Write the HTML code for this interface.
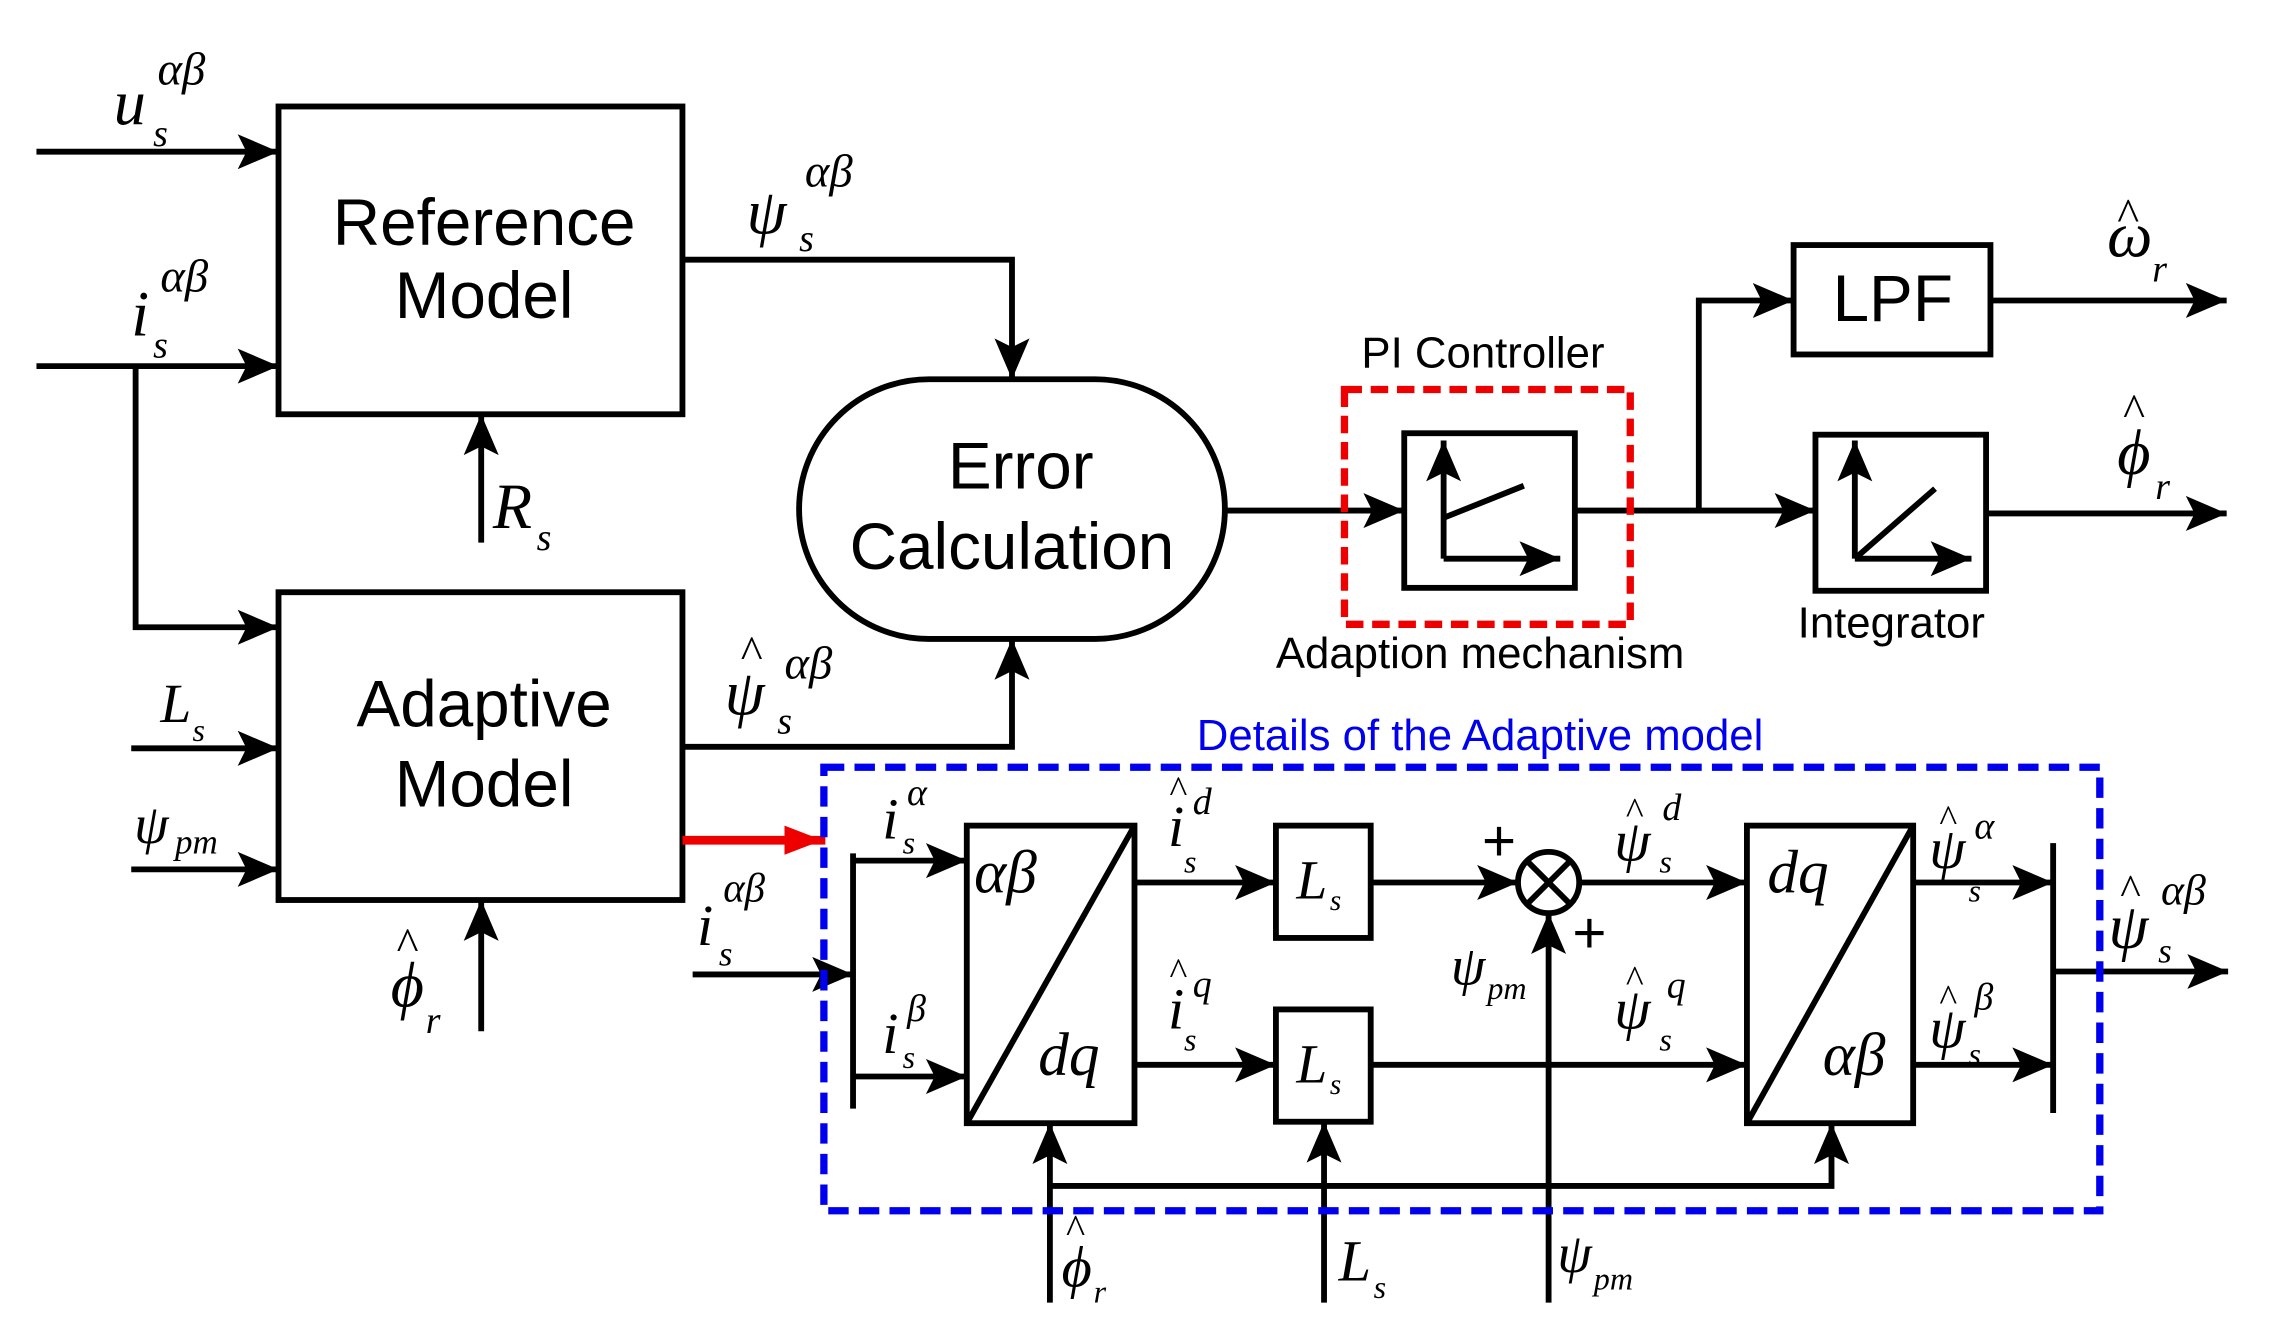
<!DOCTYPE html>
<html><head><meta charset="utf-8"><style>html,body{margin:0;padding:0;background:#fff}svg{display:block}
.t{font-family:"Liberation Sans",sans-serif}
.m{font-family:"Liberation Serif",serif;font-style:italic}
</style></head><body>
<svg width="2285" height="1342" viewBox="0 0 1567 920" preserveAspectRatio="none" xmlns="http://www.w3.org/2000/svg">
<defs><marker id="a" markerUnits="userSpaceOnUse" markerWidth="30" markerHeight="24" refX="28" refY="12" orient="auto"><path d="M0,0 L28,12 L0,24 L6,12 Z" fill="#000"/></marker>
<marker id="r" markerUnits="userSpaceOnUse" markerWidth="30" markerHeight="24" refX="28" refY="12" orient="auto"><path d="M0,2 L26,12 L0,22 Z" fill="#e00"/></marker></defs>
<g stroke="#000" stroke-width="4" fill="none">
<rect x="191" y="73" width="277" height="211"/>
<rect x="191" y="406" width="277" height="211"/>
<rect x="548" y="260" width="292" height="178" rx="89"/>
<rect x="963" y="297" width="117" height="106"/>
<rect x="1230" y="168" width="135" height="75"/>
<rect x="1245" y="298" width="117" height="107"/>
<rect x="663" y="566" width="115" height="204"/><line x1="778" y1="566" x2="663" y2="770"/>
<rect x="1198" y="566" width="114" height="204"/><line x1="1312" y1="566" x2="1198" y2="770"/>
<rect x="875" y="566" width="65" height="77"/>
<rect x="875" y="692" width="65" height="77"/>
<circle cx="1062" cy="605" r="21"/><line x1="1047" y1="590" x2="1077" y2="620"/><line x1="1077" y1="590" x2="1047" y2="620"/>
<line x1="585" y1="585" x2="585" y2="760"/><line x1="1408" y1="578" x2="1408" y2="763"/>
</g>
<g stroke="#000" stroke-width="4" fill="none" marker-end="url(#a)">
<path d="M25,104H191"/><path d="M25,251H191"/><path d="M93,251V430H191"/>
<path d="M330,372V284"/><path d="M90,513H191"/><path d="M90,596H191"/><path d="M330,707V617"/>
<path d="M468,178H694V260"/><path d="M468,512H694V438"/>
<path d="M840,350H963"/><path d="M1080,350H1245"/><path d="M1165,350V206H1230"/>
<path d="M1365,206H1527"/><path d="M1362,352H1527"/>
<path d="M475,668H585"/><path d="M585,590H663"/><path d="M585,738H663"/>
<path d="M778,605H875"/><path d="M778,730H875"/><path d="M940,605H1041"/><path d="M1083,605H1198"/><path d="M940,730H1198"/>
<path d="M1312,605H1408"/><path d="M1312,730H1408"/><path d="M1408,666H1528"/>
<path d="M720,893V770"/><path d="M908,893V769"/><path d="M1062,893V626"/><path d="M720,813H1256V770"/>
<path d="M990,383V302"/><path d="M990,383H1070"/><path d="M1272,383V302"/><path d="M1272,383H1352"/>
</g>
<g stroke="#000" stroke-width="4"><line x1="990" y1="355" x2="1045" y2="333"/><line x1="1272" y1="383" x2="1327" y2="335"/></g>
<path d="M468,576H566" stroke="#e00" stroke-width="6" marker-end="url(#r)"/>
<rect x="922" y="267" width="196" height="161" fill="none" stroke="#e00" stroke-width="5" stroke-dasharray="12,6"/>
<rect x="565" y="526" width="875" height="304" fill="none" stroke="#0000ee" stroke-width="5" stroke-dasharray="14,7"/>
<g class="t" font-size="45" text-anchor="middle" fill="#000">
<text x="332" y="168">Reference</text><text x="332" y="218">Model</text>
<text x="332" y="498">Adaptive</text><text x="332" y="553">Model</text>
<text x="700" y="335">Error</text><text x="694" y="390">Calculation</text>
<text x="1298" y="220">LPF</text>
</g>
<g class="t" font-size="30" text-anchor="middle" fill="#000">
<text x="1017" y="252">PI Controller</text><text x="1015" y="458">Adaption mechanism</text><text x="1297" y="437">Integrator</text>
<text x="1015" y="514" fill="#0000ee">Details of the Adaptive model</text>
<text x="1028" y="590" font-size="40">+</text><text x="1090" y="653" font-size="40">+</text>
</g>
<g class="m" fill="#000" font-size="44">
<text x="78" y="85">u</text><text x="105" y="100" font-size="26">s</text><text x="108" y="58" font-size="32">αβ</text>
<text x="90" y="230">i</text><text x="105" y="245" font-size="26">s</text><text x="110" y="200" font-size="32">αβ</text>
<text x="338" y="362">R</text><text x="368" y="377" font-size="26">s</text>
<text x="110" y="495" font-size="38">L</text><text x="132" y="508" font-size="22">s</text>
<text x="92" y="578" font-size="38">ψ</text><text x="120" y="585" font-size="24">pm</text>
<text x="268" y="690">ϕ</text><text x="272" y="658" font-size="32" font-style="normal">^</text><text x="292" y="708" font-size="26">r</text>
<text x="512" y="160">ψ</text><text x="548" y="172" font-size="26">s</text><text x="552" y="128" font-size="32">αβ</text>
<text x="497" y="490">ψ</text><text x="508" y="458" font-size="32" font-style="normal">^</text><text x="533" y="503" font-size="26">s</text><text x="538" y="465" font-size="32">αβ</text>
<text x="1445" y="176">ω</text><text x="1452" y="158" font-size="32" font-style="normal">^</text><text x="1476" y="193" font-size="26">r</text>
<text x="1452" y="325">ϕ</text><text x="1456" y="292" font-size="32" font-style="normal">^</text><text x="1478" y="342" font-size="26">r</text>
<text x="478" y="648" font-size="40">i</text><text x="493" y="662" font-size="24">s</text><text x="496" y="618" font-size="28">αβ</text>
<text x="605" y="575" font-size="40">i</text><text x="619" y="585" font-size="22">s</text><text x="622" y="552" font-size="26">α</text>
<text x="605" y="722" font-size="40">i</text><text x="619" y="732" font-size="22">s</text><text x="622" y="700" font-size="26">β</text>
<text x="801" y="580" font-size="40">i</text><text x="802" y="550" font-size="26" font-style="normal">^</text><text x="812" y="598" font-size="22">s</text><text x="818" y="558" font-size="26">d</text>
<text x="801" y="705" font-size="40">i</text><text x="802" y="675" font-size="26" font-style="normal">^</text><text x="812" y="720" font-size="22">s</text><text x="818" y="683" font-size="26">q</text>
<text x="889" y="616" font-size="38">L</text><text x="912" y="624" font-size="20">s</text>
<text x="889" y="742" font-size="38">L</text><text x="912" y="750" font-size="20">s</text>
<text x="668" y="612" font-size="42">αβ</text><text x="712" y="737" font-size="42">dq</text>
<text x="1212" y="612" font-size="42">dq</text><text x="1250" y="737" font-size="42">αβ</text>
<text x="1107" y="590" font-size="40">ψ</text><text x="1115" y="565" font-size="26" font-style="normal">^</text><text x="1138" y="598" font-size="22">s</text><text x="1140" y="562" font-size="26">d</text>
<text x="1107" y="705" font-size="40">ψ</text><text x="1115" y="680" font-size="26" font-style="normal">^</text><text x="1138" y="720" font-size="22">s</text><text x="1143" y="684" font-size="26">q</text>
<text x="995" y="675" font-size="38">ψ</text><text x="1020" y="685" font-size="22">pm</text>
<text x="1323" y="595" font-size="40">ψ</text><text x="1330" y="570" font-size="26" font-style="normal">^</text><text x="1350" y="618" font-size="22">s</text><text x="1354" y="575" font-size="26">α</text>
<text x="1323" y="718" font-size="40">ψ</text><text x="1330" y="693" font-size="26" font-style="normal">^</text><text x="1350" y="730" font-size="22">s</text><text x="1354" y="692" font-size="26">β</text>
<text x="1446" y="650">ψ</text><text x="1454" y="620" font-size="30" font-style="normal">^</text><text x="1480" y="660" font-size="24">s</text><text x="1482" y="620" font-size="30">αβ</text>
<text x="728" y="882" font-size="40">ϕ</text><text x="731" y="852" font-size="28" font-style="normal">^</text><text x="750" y="893" font-size="22">r</text>
<text x="918" y="878" font-size="40">L</text><text x="942" y="890" font-size="22">s</text>
<text x="1068" y="872" font-size="38">ψ</text><text x="1093" y="884" font-size="22">pm</text>
</g>
</svg>
</body></html>
